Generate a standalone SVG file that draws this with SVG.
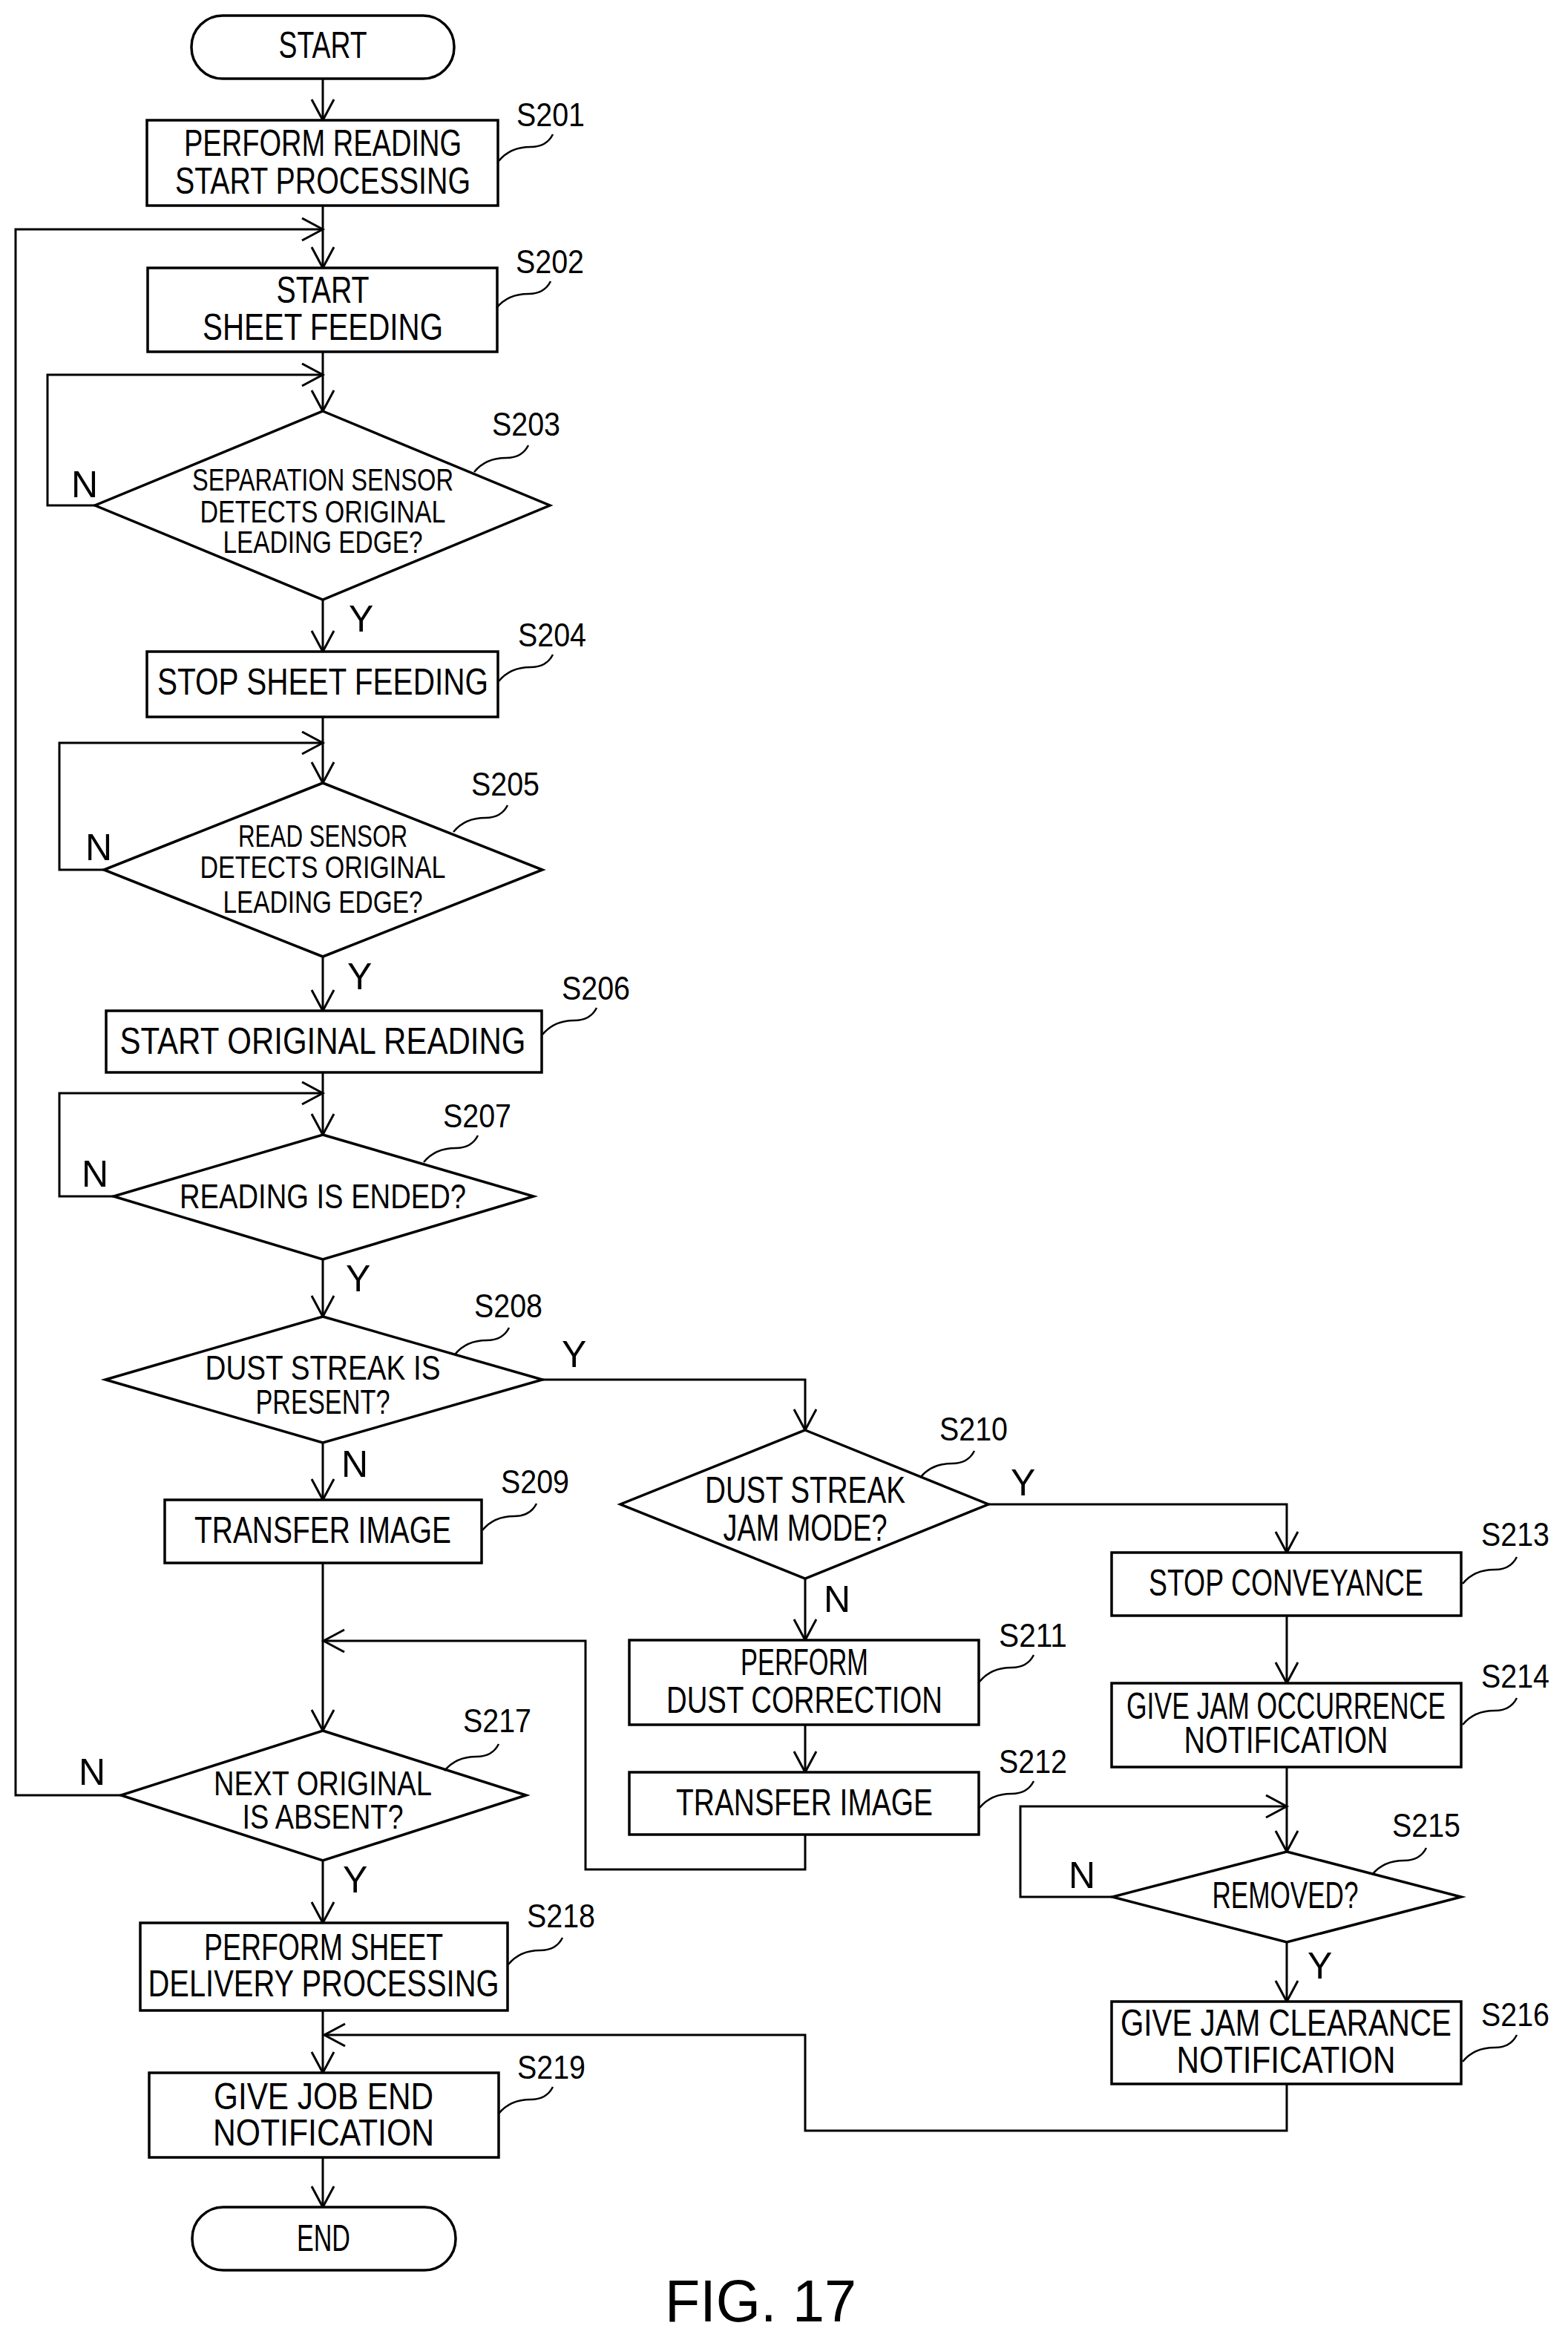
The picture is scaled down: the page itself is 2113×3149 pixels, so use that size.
<svg xmlns="http://www.w3.org/2000/svg" xmlns:xlink="http://www.w3.org/1999/xlink" width="2113" height="3149" viewBox="0 0 2113 3149">
<style>
.s{fill:#fff;stroke:#000;stroke-width:3.5}
.c{fill:none;stroke:#000;stroke-width:3}
.t{font-family:"Liberation Sans",Arial,sans-serif;font-size:50px;fill:#000;text-anchor:middle}
.d{font-size:42px}
.e{font-size:46px}
.l{font-family:"Liberation Sans",Arial,sans-serif;font-size:44px;fill:#000}
.yn{font-family:"Liberation Sans",Arial,sans-serif;font-size:50px;fill:#000}
.ld{fill:none;stroke:#000;stroke-width:2.5}
</style>
<defs>
<marker id="a" markerUnits="userSpaceOnUse" markerWidth="34" markerHeight="34" viewBox="0 0 34 34" refX="30" refY="16" orient="auto"><path d="M2,1 L30,16 L2,31" fill="none" stroke="#000" stroke-width="3"/></marker>
<path id="lp" d="M0,0 c -6,12 -16,17 -30,17 c -20,0 -34,8 -43,19" class="ld"/>
</defs>
<rect width="2113" height="3149" fill="#fff"/>
<g id="connectors">
<path class="c" marker-end="url(#a)" d="M435,106 V162"/>
<path class="c" marker-end="url(#a)" d="M435,277 V361"/>
<path class="c" marker-end="url(#a)" d="M163,2419 H21 V309 H435"/>
<path class="c" marker-end="url(#a)" d="M435,474 V554"/>
<path class="c" marker-end="url(#a)" d="M128,681 H64 V505 H435"/>
<path class="c" marker-end="url(#a)" d="M435,808 V878"/>
<path class="c" marker-end="url(#a)" d="M140,1172 H80 V1001 H435"/>
<path class="c" marker-end="url(#a)" d="M435,966 V1055"/>
<path class="c" marker-end="url(#a)" d="M435,1289 V1362"/>
<path class="c" marker-end="url(#a)" d="M153,1612 H80 V1473 H435"/>
<path class="c" marker-end="url(#a)" d="M435,1445 V1529"/>
<path class="c" marker-end="url(#a)" d="M435,1697 V1774"/>
<path class="c" marker-end="url(#a)" d="M435,1944 V2021"/>
<path class="c" marker-end="url(#a)" d="M731,1859 H1085 V1927"/>
<path class="c" marker-end="url(#a)" d="M435,2106 V2332"/>
<path class="c" marker-end="url(#a)" d="M1085,2472 V2519 H789 V2211 H436"/>
<path class="c" marker-end="url(#a)" d="M1085,2127 V2210"/>
<path class="c" marker-end="url(#a)" d="M1085,2324 V2388"/>
<path class="c" marker-end="url(#a)" d="M1332,2027 H1734 V2092"/>
<path class="c" marker-end="url(#a)" d="M1734,2177 V2268"/>
<path class="c" marker-end="url(#a)" d="M1734,2381 V2495"/>
<path class="c" marker-end="url(#a)" d="M1499,2556 H1375 V2434 H1734"/>
<path class="c" marker-end="url(#a)" d="M1734,2617 V2697"/>
<path class="c" marker-end="url(#a)" d="M1734,2808 V2871 H1085 V2742 H437"/>
<path class="c" marker-end="url(#a)" d="M435,2507 V2591"/>
<path class="c" marker-end="url(#a)" d="M435,2709 V2793"/>
<path class="c" marker-end="url(#a)" d="M435,2907 V2974"/>
</g>
<g id="yn">
<text class="yn" x="96" y="670">N</text>
<text class="yn" x="470" y="851">Y</text>
<text class="yn" x="115" y="1159">N</text>
<text class="yn" x="468" y="1333">Y</text>
<text class="yn" x="110" y="1599">N</text>
<text class="yn" x="466" y="1740">Y</text>
<text class="yn" x="757" y="1842">Y</text>
<text class="yn" x="460" y="1990">N</text>
<text class="yn" x="1362" y="2015">Y</text>
<text class="yn" x="1110" y="2172">N</text>
<text class="yn" x="1440" y="2544">N</text>
<text class="yn" x="1762" y="2666">Y</text>
<text class="yn" x="106" y="2405">N</text>
<text class="yn" x="462" y="2550">Y</text>
</g>
<g id="start"><rect class="s" x="258" y="21" width="354" height="85" rx="42"/><text class="t" x="435" y="78" textLength="119" lengthAdjust="spacingAndGlyphs">START</text></g>
<g id="S201"><rect class="s" x="198" y="162" width="473" height="115"/><text class="t" x="435" y="210" textLength="374" lengthAdjust="spacingAndGlyphs">PERFORM READING</text><text class="t" x="435" y="261" textLength="398" lengthAdjust="spacingAndGlyphs">START PROCESSING</text><text class="l" x="696" y="170" textLength="92" lengthAdjust="spacingAndGlyphs">S201</text><use xlink:href="#lp" x="745" y="181"/></g>
<g id="S202"><rect class="s" x="199" y="361" width="471" height="113"/><text class="t" x="435" y="408" textLength="125" lengthAdjust="spacingAndGlyphs">START</text><text class="t" x="435" y="458" textLength="324" lengthAdjust="spacingAndGlyphs">SHEET FEEDING</text><text class="l" x="695" y="368" textLength="92" lengthAdjust="spacingAndGlyphs">S202</text><use xlink:href="#lp" x="742" y="379"/></g>
<g id="S203"><polygon class="s" points="435,554 741,681 435,808 128,681"/><text class="t d" x="435" y="661" textLength="352" lengthAdjust="spacingAndGlyphs">SEPARATION SENSOR</text><text class="t d" x="435" y="704" textLength="331" lengthAdjust="spacingAndGlyphs">DETECTS ORIGINAL</text><text class="t d" x="435" y="745" textLength="269" lengthAdjust="spacingAndGlyphs">LEADING EDGE?</text><text class="l" x="663" y="587" textLength="92" lengthAdjust="spacingAndGlyphs">S203</text><use xlink:href="#lp" x="712" y="600"/></g>
<g id="S204"><rect class="s" x="198" y="878" width="473" height="88"/><text class="t" x="435" y="936" textLength="446" lengthAdjust="spacingAndGlyphs">STOP SHEET FEEDING</text><text class="l" x="698" y="871" textLength="92" lengthAdjust="spacingAndGlyphs">S204</text><use xlink:href="#lp" x="745" y="882"/></g>
<g id="S205"><polygon class="s" points="435,1055 731,1172 435,1289 140,1172"/><text class="t d" x="435" y="1141" textLength="228" lengthAdjust="spacingAndGlyphs">READ SENSOR</text><text class="t d" x="435" y="1183" textLength="331" lengthAdjust="spacingAndGlyphs">DETECTS ORIGINAL</text><text class="t d" x="435" y="1230" textLength="269" lengthAdjust="spacingAndGlyphs">LEADING EDGE?</text><text class="l" x="635" y="1072" textLength="92" lengthAdjust="spacingAndGlyphs">S205</text><use xlink:href="#lp" x="684" y="1085"/></g>
<g id="S206"><rect class="s" x="143" y="1362" width="587" height="83"/><text class="t" x="435" y="1420" textLength="547" lengthAdjust="spacingAndGlyphs">START ORIGINAL READING</text><text class="l" x="757" y="1347" textLength="92" lengthAdjust="spacingAndGlyphs">S206</text><use xlink:href="#lp" x="804" y="1358"/></g>
<g id="S207"><polygon class="s" points="435,1529 719,1612 435,1697 153,1612"/><text class="t e" x="435" y="1628" textLength="386" lengthAdjust="spacingAndGlyphs">READING IS ENDED?</text><text class="l" x="597" y="1519" textLength="92" lengthAdjust="spacingAndGlyphs">S207</text><use xlink:href="#lp" x="644" y="1530"/></g>
<g id="S208"><polygon class="s" points="435,1774 731,1859 435,1944 142,1859"/><text class="t e" x="435" y="1859" textLength="317" lengthAdjust="spacingAndGlyphs">DUST STREAK IS</text><text class="t e" x="435" y="1905" textLength="181" lengthAdjust="spacingAndGlyphs">PRESENT?</text><text class="l" x="639" y="1775" textLength="92" lengthAdjust="spacingAndGlyphs">S208</text><use xlink:href="#lp" x="686" y="1789"/></g>
<g id="S209"><rect class="s" x="222" y="2021" width="427" height="85"/><text class="t" x="435" y="2079" textLength="346" lengthAdjust="spacingAndGlyphs">TRANSFER IMAGE</text><text class="l" x="675" y="2012" textLength="92" lengthAdjust="spacingAndGlyphs">S209</text><use xlink:href="#lp" x="723" y="2026"/></g>
<g id="S210"><polygon class="s" points="1085,1927 1332,2027 1085,2127 836,2027"/><text class="t" x="1085" y="2025" textLength="270" lengthAdjust="spacingAndGlyphs">DUST STREAK</text><text class="t" x="1085" y="2076" textLength="221" lengthAdjust="spacingAndGlyphs">JAM MODE?</text><text class="l" x="1266" y="1941" textLength="92" lengthAdjust="spacingAndGlyphs">S210</text><use xlink:href="#lp" x="1313" y="1955"/></g>
<g id="S211"><rect class="s" x="848" y="2210" width="471" height="114"/><text class="t" x="1084" y="2257" textLength="172" lengthAdjust="spacingAndGlyphs">PERFORM</text><text class="t" x="1084" y="2308" textLength="372" lengthAdjust="spacingAndGlyphs">DUST CORRECTION</text><text class="l" x="1346" y="2219" textLength="92" lengthAdjust="spacingAndGlyphs">S211</text><use xlink:href="#lp" x="1393" y="2230"/></g>
<g id="S212"><rect class="s" x="848" y="2388" width="471" height="84"/><text class="t" x="1084" y="2446" textLength="346" lengthAdjust="spacingAndGlyphs">TRANSFER IMAGE</text><text class="l" x="1346" y="2389" textLength="92" lengthAdjust="spacingAndGlyphs">S212</text><use xlink:href="#lp" x="1393" y="2400"/></g>
<g id="S213"><rect class="s" x="1498" y="2092" width="471" height="85"/><text class="t" x="1733" y="2150" textLength="370" lengthAdjust="spacingAndGlyphs">STOP CONVEYANCE</text><text class="l" x="1996" y="2083" textLength="92" lengthAdjust="spacingAndGlyphs">S213</text><use xlink:href="#lp" x="2044" y="2098"/></g>
<g id="S214"><rect class="s" x="1498" y="2268" width="471" height="113"/><text class="t" x="1733" y="2316" textLength="430" lengthAdjust="spacingAndGlyphs">GIVE JAM OCCURRENCE</text><text class="t" x="1733" y="2362" textLength="275" lengthAdjust="spacingAndGlyphs">NOTIFICATION</text><text class="l" x="1996" y="2274" textLength="92" lengthAdjust="spacingAndGlyphs">S214</text><use xlink:href="#lp" x="2044" y="2288"/></g>
<g id="S215"><polygon class="s" points="1734,2495 1969,2556 1734,2617 1499,2556"/><text class="t" x="1732" y="2571" textLength="197" lengthAdjust="spacingAndGlyphs">REMOVED?</text><text class="l" x="1876" y="2475" textLength="92" lengthAdjust="spacingAndGlyphs">S215</text><use xlink:href="#lp" x="1922" y="2490"/></g>
<g id="S216"><rect class="s" x="1498" y="2697" width="471" height="111"/><text class="t" x="1733" y="2743" textLength="446" lengthAdjust="spacingAndGlyphs">GIVE JAM CLEARANCE</text><text class="t" x="1733" y="2793" textLength="295" lengthAdjust="spacingAndGlyphs">NOTIFICATION</text><text class="l" x="1996" y="2730" textLength="92" lengthAdjust="spacingAndGlyphs">S216</text><use xlink:href="#lp" x="2044" y="2742"/></g>
<g id="S217"><polygon class="s" points="435,2332 709,2419 435,2507 163,2419"/><text class="t e" x="435" y="2419" textLength="294" lengthAdjust="spacingAndGlyphs">NEXT ORIGINAL</text><text class="t e" x="435" y="2464" textLength="217" lengthAdjust="spacingAndGlyphs">IS ABSENT?</text><text class="l" x="624" y="2334" textLength="92" lengthAdjust="spacingAndGlyphs">S217</text><use xlink:href="#lp" x="672" y="2350"/></g>
<g id="S218"><rect class="s" x="189" y="2591" width="495" height="118"/><text class="t" x="436" y="2641" textLength="322" lengthAdjust="spacingAndGlyphs">PERFORM SHEET</text><text class="t" x="436" y="2690" textLength="473" lengthAdjust="spacingAndGlyphs">DELIVERY PROCESSING</text><text class="l" x="710" y="2597" textLength="92" lengthAdjust="spacingAndGlyphs">S218</text><use xlink:href="#lp" x="758" y="2611"/></g>
<g id="S219"><rect class="s" x="201" y="2793" width="471" height="114"/><text class="t" x="436" y="2842" textLength="296" lengthAdjust="spacingAndGlyphs">GIVE JOB END</text><text class="t" x="436" y="2891" textLength="298" lengthAdjust="spacingAndGlyphs">NOTIFICATION</text><text class="l" x="697" y="2801" textLength="92" lengthAdjust="spacingAndGlyphs">S219</text><use xlink:href="#lp" x="745" y="2812"/></g>
<g id="end"><rect class="s" x="259" y="2974" width="355" height="85" rx="42"/><text class="t" x="436" y="3033" textLength="72" lengthAdjust="spacingAndGlyphs">END</text></g>
<text x="896" y="3128" font-family="Liberation Sans,Arial,sans-serif" font-size="80" textLength="258" lengthAdjust="spacingAndGlyphs">FIG. 17</text>
</svg>
